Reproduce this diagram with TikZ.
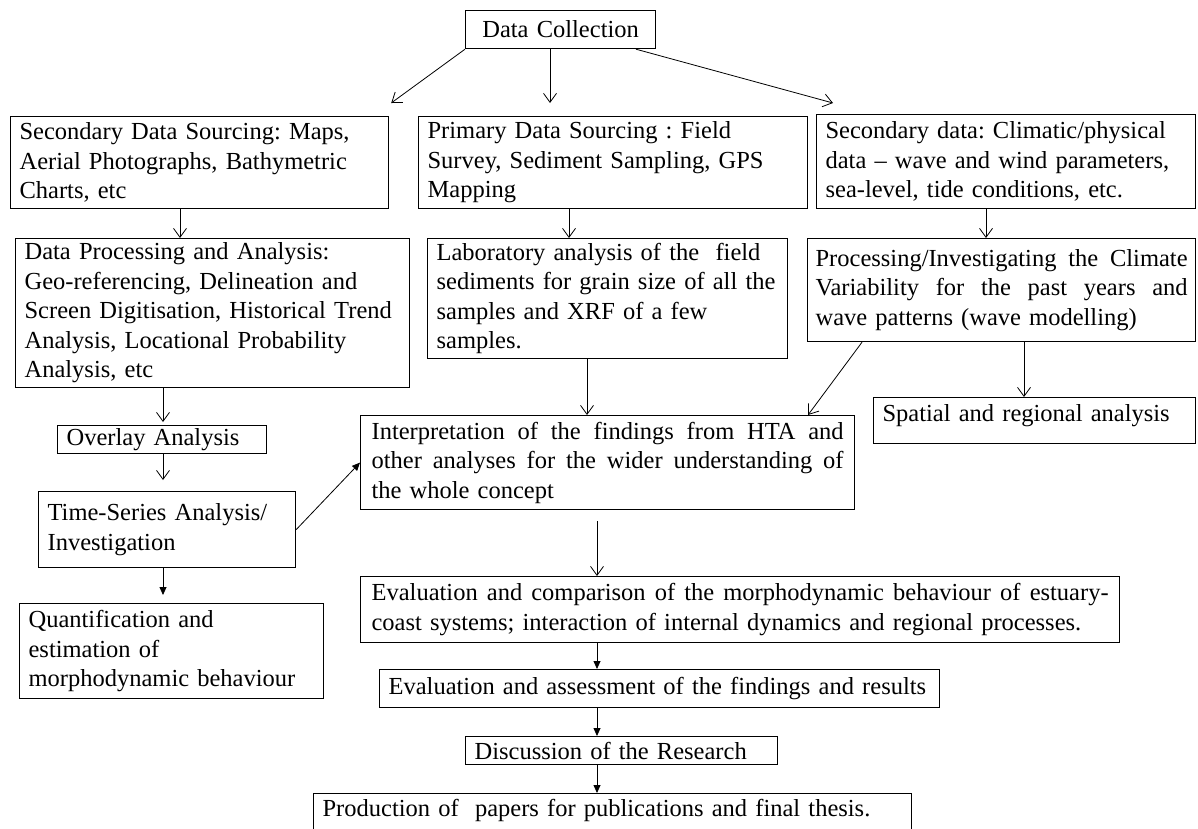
\documentclass[tikz,border=0pt]{standalone}
\usepackage{fontspec}
\setmainfont{Liberation Serif}
\usetikzlibrary{arrows.meta}
\newcommand{\fillline}[1]{\makebox[\linewidth][s]{\spaceskip=0pt\xspaceskip=0pt\relax #1}}
\begin{document}
\begin{tikzpicture}[x=1pt, y=-1pt,
        every node/.style={font=\fontsize{24.5}{29.5}\selectfont\frenchspacing},
        box/.style={draw, line width=1.2pt, anchor=north west, align=left, inner xsep=9pt, inner ysep=2pt},
        openarr/.style={-{Straight Barb[length=9pt,width=13pt]}, line width=0.8pt},
        fillarr/.style={-{Triangle[length=8pt,width=7pt]}, line width=0.8pt}]
    \useasboundingbox (0,0) rectangle (1198,828);
    % top row
    \node[box, align=center, text width=172pt, minimum height=38pt] (dc) at (465,10) {Data Collection};
    \node[box, text width=360pt, minimum height=92pt] (sds) at (10,116)
        {Secondary Data Sourcing: Maps,\\ Aerial Photographs,  Bathymetric\\ Charts, etc};
    \node[box, text width=371pt, minimum height=92pt] (pds) at (418,116)
        {Primary Data Sourcing : Field\\ Survey, Sediment Sampling, GPS\\ Mapping};
    \node[box, text width=361pt, minimum height=94pt] (sd) at (816,114)
        {Secondary data: Climatic/physical\\ data -- wave and wind parameters,\\ sea-level, tide conditions, etc.};
    % second row
    \node[box, text width=376pt, minimum height=149pt] (dpa) at (15,238)
        {Data Processing and Analysis:\\ Geo-referencing, Delineation and\\ Screen Digitisation, Historical Trend\\ Analysis, Locational Probability\\ Analysis, etc};
    \node[box, text width=342pt, minimum height=120pt] (lab) at (427,238)
        {Laboratory analysis of the \ field\\ sediments for grain size of all the\\ samples and XRF of a few\\ samples.};
    \node[box, inner xsep=8pt, text width=372pt, minimum height=103pt] (proc) at (807,238)
        {\fillline{Processing/Investigating the Climate}\\ \fillline{Variability for the past years and}\\ wave patterns (wave modelling)};
    \node[box, text width=304pt, minimum height=46pt, text height=21pt, text depth=19pt] (spat) at (873,397)
        {Spatial and regional analysis};
    % left column
    \node[box, text width=191pt, minimum height=28pt] (ovl) at (57,425) {Overlay Analysis};
    \node[box, text width=239pt, minimum height=76pt] (ts) at (38,491)
        {Time-Series Analysis/\\ Investigation};
    \node[box, text width=286pt, minimum height=95pt] (quant) at (19,603)
        {Quantification and\\ estimation of\\ morphodynamic behaviour};
    % centre column
    \node[box, inner xsep=11pt, text width=472pt, minimum height=94pt] (interp) at (360,415)
        {\fillline{Interpretation of the findings from HTA and}\\ \fillline{other analyses for the wider understanding of}\\ the whole concept};
    \node[box, inner xsep=11pt, text width=737pt, minimum height=66pt] (eval) at (360,576)
        {\fillline{Evaluation and comparison of the morphodynamic behaviour of estuary-}\\ coast systems; interaction of internal dynamics and regional processes.};
    \node[box, text width=542pt, minimum height=38pt] (assess) at (379,669)
        {Evaluation and assessment of the findings and results};
    \node[box, text width=294pt, minimum height=28pt] (disc) at (465,736)
        {Discussion of the Research};
    \node[box, text width=580pt, text height=21pt, text depth=30pt] (prod) at (313,793)
        {Production of \ papers for publications and final thesis.};
    % connectors
    \draw[openarr] (dc.south west) -- ([shift={(2,-13)}]sds.north east);
    \draw[openarr, shorten >=13pt] (dc.south -| 550,0) -- (pds.north -| 550,0);
    \draw[openarr] (dc.south -| 636,0) -- ([shift={(17,-11)}]sd.north west);
    \draw[openarr] (sds.south -| 180,0) -- (dpa.north -| 180,0);
    \draw[openarr] (pds.south -| 569,0) -- (lab.north -| 569,0);
    \draw[openarr] (sd.south -| 986,0) -- (proc.north -| 986,0);
    \draw[openarr, shorten >=3pt] (dpa.south -| 163,0) -- (ovl.north -| 163,0);
    \draw[openarr, shorten >=11pt] (ovl.south -| 163,0) -- (ts.north -| 163,0);
    \draw[fillarr, shorten >=8pt] (ts.south -| 163,0) -- (quant.north -| 163,0);
    \draw[fillarr] (ts.east) -- (interp.west);
    \draw[openarr] (lab.south -| 587,0) -- (interp.north -| 587,0);
    \draw[openarr] (proc.south -| 862,0) -- (interp.north -| 808,0);
    \draw[openarr] (proc.south -| 1024,0) -- (spat.north -| 1024,0);
    \draw[openarr, shorten <=11pt] (interp.south -| 597,0) -- (eval.north -| 597,0);
    \draw[fillarr] (eval.south -| 597,0) -- (assess.north -| 597,0);
    \draw[fillarr] (assess.south -| 597,0) -- (disc.north -| 597,0);
    \draw[fillarr] (disc.south -| 597,0) -- (prod.north -| 597,0);
\end{tikzpicture}
\end{document}
